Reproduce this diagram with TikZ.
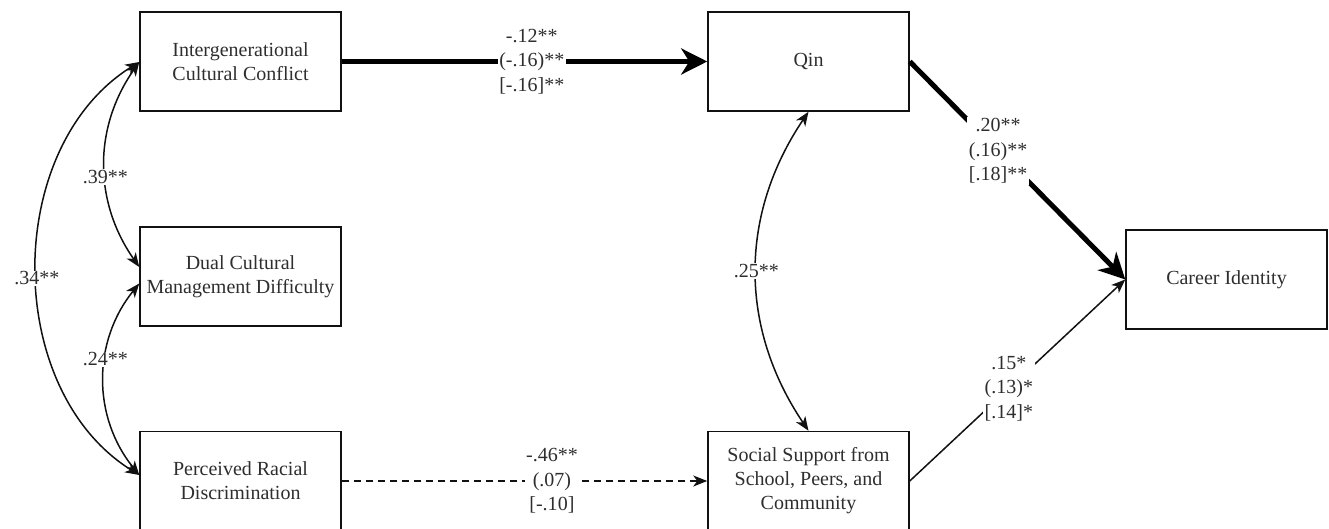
\documentclass[tikz,border=0pt]{standalone}
\usepackage{fontspec}
\setmainfont{Liberation Serif}
\usetikzlibrary{arrows.meta}
\definecolor{txt}{HTML}{2E2E2E}
\definecolor{ln}{HTML}{111111}
\begin{document}
\begin{tikzpicture}[x=1pt,y=1pt,
  box/.style={draw=ln, line width=1.5pt, minimum width=201pt, minimum height=99pt,
    align=center, font=\fontsize{20}{24}\selectfont, text=txt, inner sep=0pt},
  lbl/.style={fill=white, align=center, font=\fontsize{20}{24.5}\selectfont, text=txt, inner sep=1.5pt},
  thinline/.style={line width=1.5pt, draw=ln},
  thintip/.style={-{Stealth[length=14pt,width=11pt,inset=4pt]}},
  bothtip/.style={{Stealth[length=14pt,width=11pt,inset=4pt]}-{Stealth[length=14pt,width=11pt,inset=4pt]}},
  thickline/.style={line width=5pt, draw=black, -{Stealth[length=26pt,width=26pt,inset=8pt]}},
  dashline/.style={line width=1.5pt, draw=ln, dash pattern=on 7pt off 5pt}
]
\useasboundingbox (0,0) rectangle (1329,-529);
\clip (0,0) rectangle (1329,-529);

\node[box] (icc)  at (240.5,-61.5)  {Intergenerational\\Cultural Conflict};
\node[box] (dcmd) at (240.5,-276.5) {Dual Cultural\\Management Difficulty};
\node[box] (prd)  at (240.5,-481)   {Perceived Racial\\Discrimination};
\node[box] (qin)  at (808.5,-61.5)  {Qin};
\node[box] (ss)   at (808.5,-481)   {Social Support from\\School, Peers, and\\Community};
\node[box] (ci)   at (1226.5,-279.5) {Career Identity};

% directed paths
\draw[thickline] (icc.east) -- node[lbl, pos=0.52] {-.12**\\(-.16)**\\{[}-.16{]}**} (qin.west);
\draw[thickline] (qin.east) -- node[lbl, pos=0.41] {.20**\\(.16)**\\{[}.18{]}**} (ci.west);
\draw[thinline, thintip] (ss.east) -- node[lbl, pos=0.46] {.15*\\(.13)*\\{[}.14{]}*} (ci.west);
\draw[dashline, thintip] (prd.east) -- node[lbl, pos=0.575] {-.46**\\(.07)\\{[}-.10{]}} (ss.west);

% correlations
\draw[thinline, bothtip] ([yshift=-0.5pt]icc.west) to[bend right=58]
  node[lbl, pos=0.52, inner sep=1pt] {.34**} ([yshift=6pt]prd.west);
\draw[thinline, bothtip] ([yshift=-0.5pt]icc.west) to[bend right=35]
  node[lbl, pos=0.56, inner sep=1pt] {.39**} ([yshift=9.5pt]dcmd.west);
\draw[thinline, bothtip] ([yshift=-7pt]dcmd.west) to[bend right=39]
  node[lbl, pos=0.4, inner sep=1pt] {.24**} ([yshift=6pt]prd.west);
\draw[thinline, bothtip] (qin.south) to[bend right=34]
  node[lbl, pos=0.5, inner sep=1pt] {.25**} (ss.north);
\end{tikzpicture}
\end{document}
